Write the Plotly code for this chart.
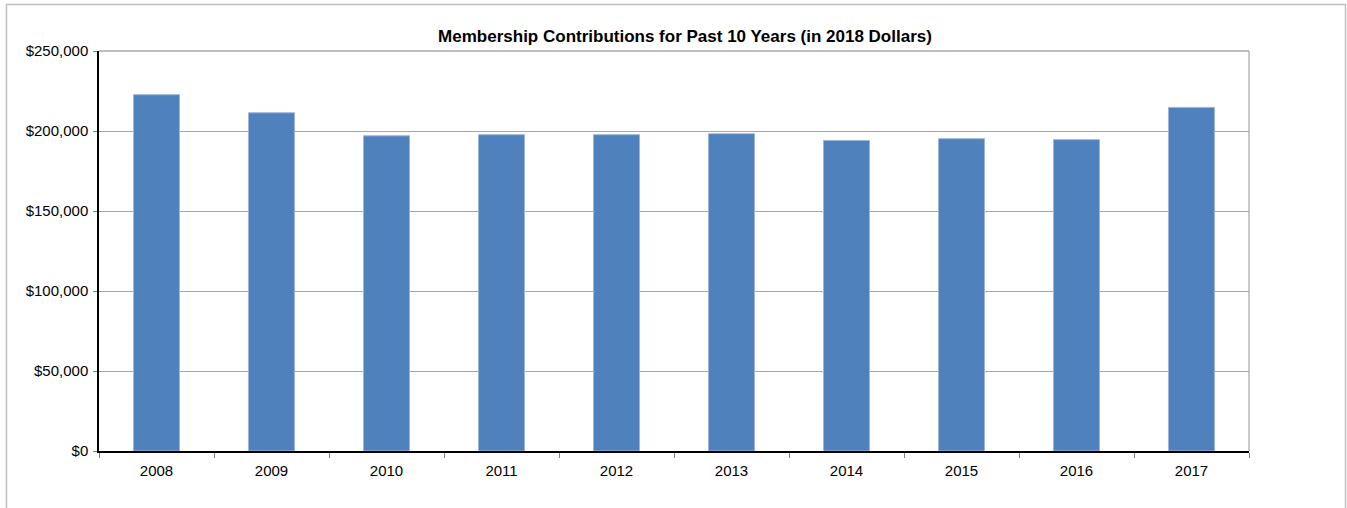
import plotly.graph_objects as go

years = ["2008", "2009", "2010", "2011", "2012", "2013", "2014", "2015", "2016", "2017"]
contributions = [222700, 211400, 197000, 197700, 197700, 198300, 194100, 195200, 194600, 214750]

W, H = 1347, 508
L, R, T, B = 99, 1249, 51, 451
pw, ph = R - L, B - T

fig = go.Figure(
    go.Bar(
        x=years,
        y=contributions,
        width=0.4,
        marker=dict(color="#4f81bd", line=dict(color="#9db6da", width=1)),
        hoverinfo="x+y",
    )
)

font = "Liberation Sans, Arial, sans-serif"

fig.update_layout(
    width=W,
    height=H,
    margin=dict(l=L, r=W - R, t=T, b=H - B),
    paper_bgcolor="white",
    plot_bgcolor="white",
    showlegend=False,
    bargap=0.6,
    font=dict(family=font, size=15, color="#000000"),
    title=dict(
        text="<b>Membership Contributions for Past 10 Years (in 2018 Dollars)</b>",
        font=dict(family=font, size=17, color="#000000"),
        xref="container", yref="container",
        x=685 / W, xanchor="center",
        y=1 - 36.5 / H, yanchor="middle",
    ),
    xaxis=dict(
        type="category",
        showline=True, linecolor="#000000", linewidth=1.5,
        ticks="outside", tickson="boundaries", ticklen=5, tickcolor="#808080", tickwidth=1,
        showgrid=False,
        tickfont=dict(family=font, size=15, color="#000000"),
        ticklabelstandoff=5,
    ),
    yaxis=dict(
        range=[0, 250000],
        dtick=50000,
        tickprefix="$", tickformat=",",
        showline=True, linecolor="#000000", linewidth=1.5,
        ticks="outside", ticklen=4, tickcolor="#808080", tickwidth=1,
        showgrid=True, gridcolor="#a6a6a6", gridwidth=1,
        zeroline=False,
        tickfont=dict(family=font, size=15, color="#000000"),
        ticklabelstandoff=2,
    ),
    shapes=[
        # plot area top and right border
        dict(type="line", xref="paper", yref="paper", x0=0, x1=1, y0=1, y1=1,
             line=dict(color="#7f7f7f", width=1.2), layer="above"),
        dict(type="line", xref="paper", yref="paper", x0=1, x1=1, y0=0, y1=1,
             line=dict(color="#a6a6a6", width=1.2), layer="above"),
        # outer chart border
        dict(type="rect", xref="paper", yref="paper",
             x0=(6.5 - L) / pw, x1=(1345.5 - L) / pw,
             y0=(B - 530) / ph, y1=(B - 4.5) / ph,
             line=dict(color="#bfbfbf", width=1.5), layer="below"),
    ],
)

fig.write_html("out.html")
